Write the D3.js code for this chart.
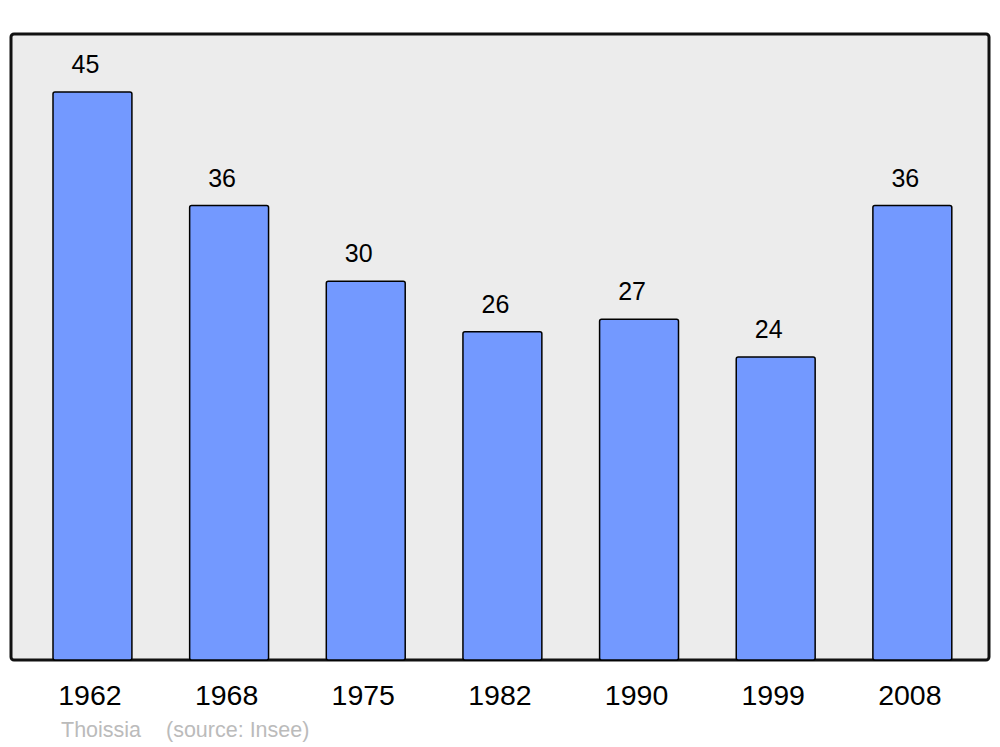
<!DOCTYPE html>
<html>
<head>
<meta charset="utf-8">
<script src="https://cdn.jsdelivr.net/npm/d3@7"></script>
<style>
  body { margin: 0; background: #fff; }
  text { font-family: "Liberation Sans", Arial, sans-serif; }
</style>
</head>
<body>
<svg id="chart" width="1000" height="747"></svg>
<script>
// données
const years = ["1962", "1968", "1975", "1982", "1990", "1999", "2008"];
const population = [45, 36, 30, 26, 27, 24, 36];
const commune = "Thoissia";
const source = "(source: Insee)";

const svg = d3.select("#chart");

// cadre
svg.append("rect")
    .attr("x", 11).attr("y", 34)
    .attr("width", 978).attr("height", 626)
    .attr("rx", 3)
    .attr("fill", "#ececec")
    .attr("stroke", "#111")
    .attr("stroke-width", 3);

const x = d3.scaleBand().domain(years).range([53, 951.8]).paddingInner(0.4225).paddingOuter(0);
const y = d3.scaleLinear().domain([0, 45]).range([660, 92]);

svg.append("g")
    .selectAll("rect")
    .data(years)
    .enter()
    .append("rect")
    .attr("x", d => x(d))
    .attr("y", (d, i) => y(population[i]))
    .attr("width", x.bandwidth())
    .attr("height", (d, i) => y(0) - y(population[i]))
    .attr("rx", 2)
    .attr("fill", "#7399ff")
    .attr("stroke", "#000")
    .attr("stroke-width", 1.5);

// valeurs
svg.append("g")
    .selectAll("text")
    .data(years)
    .enter()
    .append("text")
    .attr("x", d => x(d) + x.bandwidth() / 2 - 7)
    .attr("y", (d, i) => y(population[i]) - 19)
    .attr("text-anchor", "middle")
    .attr("font-size", 25)
    .text((d, i) => population[i]);

// années
svg.append("g")
    .selectAll("text")
    .data(years)
    .enter()
    .append("text")
    .attr("x", d => x(d) + x.bandwidth() / 2 - 2.5)
    .attr("y", 705)
    .attr("text-anchor", "middle")
    .attr("font-size", 28.5)
    .text(d => d);

// pied
svg.append("text")
    .attr("x", 61).attr("y", 737)
    .attr("font-size", 21.5)
    .attr("fill", "#bbb")
    .text(commune);
svg.append("text")
    .attr("x", 166).attr("y", 737)
    .attr("font-size", 21.5)
    .attr("fill", "#bbb")
    .text(source);
</script>
</body>
</html>
